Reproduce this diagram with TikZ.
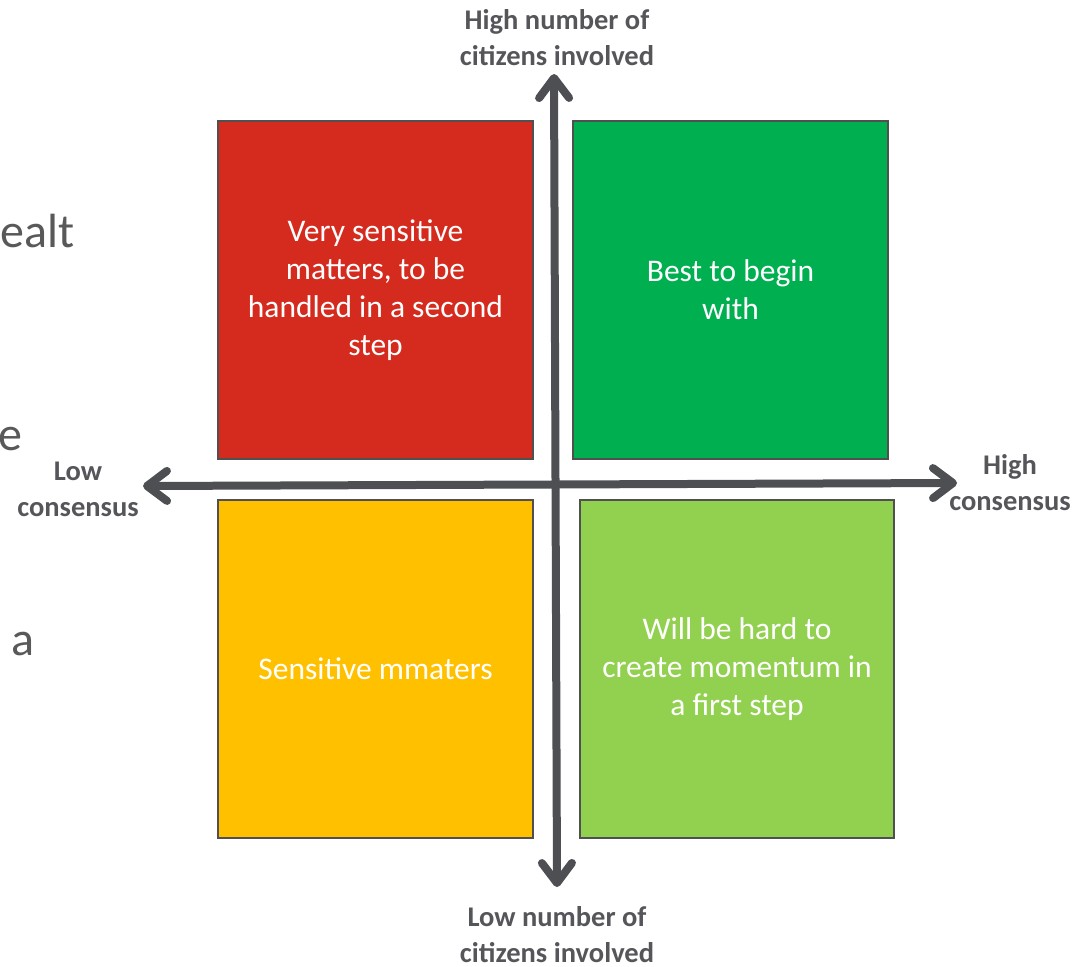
\documentclass[tikz,border=0pt]{standalone}
\usepackage{fontspec}
\setmainfont{Carlito}
\usetikzlibrary{arrows.meta}
\definecolor{axisgray}{HTML}{4D4F53}
\definecolor{labelgray}{HTML}{55565A}
\definecolor{sidegray}{HTML}{595959}
\definecolor{edgegray}{HTML}{505050}
\definecolor{qred}{HTML}{D52B1E}
\definecolor{qgreen}{HTML}{00B050}
\definecolor{qyellow}{HTML}{FFC000}
\definecolor{qlime}{HTML}{92D050}
\tikzset{
  quad/.style={draw=edgegray, line width=1.6pt, inner sep=0pt, text=white,
    align=center, font=\fontsize{31.5}{38}\selectfont},
  axislabel/.style={text=labelgray, align=center, inner sep=0pt,
    font=\fontsize{28.5}{36}\selectfont\bfseries},
  sidetext/.style={text=sidegray, inner sep=0pt, anchor=base west,
    font=\fontsize{48}{56}\selectfont},
  axis/.style={draw=axisgray, line width=8pt,
    {Straight Barb[length=20pt,width=30pt,round]}-{Straight Barb[length=20pt,width=30pt,round]}}
}
\begin{document}
\begin{tikzpicture}[x=1pt,y=-1pt]
\useasboundingbox (0,0) rectangle (1078,966);

% partially visible words at the left margin
\node[sidetext] (s1) at (0,247) {ealt};
\node[sidetext] (s2) at (-2,450) {e};
\node[sidetext] (s3) at (11,655) {a};

% the four quadrants
\node[quad, fill=qred, minimum width=315pt, minimum height=338pt] (q1) at (375.5,290)
  {Very sensitive\\matters, to be\\handled in a second\\step};
\node[quad, fill=qgreen, minimum width=315pt, minimum height=338pt] (q2) at (730.5,290)
  {Best to begin\\with};
\node[quad, fill=qyellow, minimum width=315pt, minimum height=338pt] (q3) at (375.5,669)
  {Sensitive mmaters};
\node[quad, fill=qlime, minimum width=314pt, minimum height=338pt] (q4) at (737,669)
  {Will be hard to\\create momentum in\\a first step};

% axes
\coordinate (top) at (554,74);
\coordinate (bottom) at (557,887);
\coordinate (left) at (143,486);
\coordinate (right) at (957,483);
\draw[axis] (bottom) -- (top);
\draw[axis] (left) -- (right);

% axis labels
\node[axislabel] (lt) at (557,38) {High number of\\citizens involved};
\node[axislabel] (lb) at (557,935) {Low number of\\citizens involved};
\node[axislabel] (ll) at (78,489) {Low\\consensus};
\node[axislabel] (lr) at (1010,483) {High\\consensus};
\end{tikzpicture}
\end{document}
